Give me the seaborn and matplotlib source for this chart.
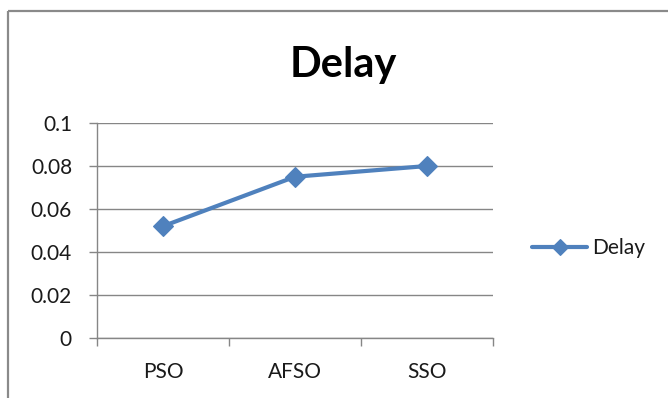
import matplotlib
matplotlib.use("Agg")
import matplotlib.pyplot as plt
from matplotlib.patches import Rectangle
import seaborn as sns
import pandas as pd

# Delay of each optimisation algorithm
algorithms = ["PSO", "AFSO", "SSO"]
delay = [0.052, 0.075, 0.080]
y_ticks = [0, 0.02, 0.04, 0.06, 0.08, 0.1]
y_tick_labels = ["0", "0.02", "0.04", "0.06", "0.08", "0.1"]

df = pd.DataFrame({"pos": range(len(algorithms)), "Delay": delay})

sns.set_theme(style="white")
plt.rcParams["font.family"] = ["Lato", "DejaVu Sans"]

W, H = 668, 398
fig = plt.figure(figsize=(W / 100, H / 100), dpi=100)
fig.patch.set_facecolor("white")

# chart frame (open on the right and bottom)
frame_color = "#8a8a8a"
fig.add_artist(plt.Line2D([8 / W, 8 / W], [0, 1 - 11 / H], transform=fig.transFigure,
                          color=frame_color, lw=1.6, solid_capstyle="butt"))
fig.add_artist(plt.Line2D([8 / W, 1], [1 - 11 / H, 1 - 11 / H], transform=fig.transFigure,
                          color=frame_color, lw=1.6, solid_capstyle="butt"))

left, right = 97 / W, 493 / W
bottom, top = 1 - 338 / H, 1 - 123 / H
ax = fig.add_axes([left, bottom, right - left, top - bottom])
ax.set_facecolor("white")

line_color = "#4f81bd"
grid_color = "#868686"

sns.lineplot(data=df, x="pos", y="Delay", ax=ax, sort=False, color=line_color,
             lw=3.0, marker="D", markersize=10, markeredgecolor=line_color,
             markeredgewidth=0.8, label="Delay", zorder=5)

ax.set_xlim(-0.5, len(algorithms) - 0.5)
ax.set_ylim(0, 0.1)

ax.set_yticks(y_ticks)
ax.set_yticklabels(y_tick_labels)
ax.yaxis.grid(True, color=grid_color, lw=1.0)
ax.xaxis.grid(False)
ax.set_axisbelow(True)

# category boundaries carry the tick marks; names sit between them
ax.set_xticks([i - 0.5 for i in range(len(algorithms) + 1)])
ax.set_xticklabels([])
ax.set_xticks(range(len(algorithms)), minor=True)
ax.set_xticklabels(algorithms, minor=True)
ax.tick_params(axis="x", which="major", direction="out", length=6, width=1.0,
               color=grid_color, bottom=True)
ax.tick_params(axis="x", which="minor", length=0, pad=17, labelsize=15,
               labelcolor="#1a1a1a")
ax.tick_params(axis="y", direction="out", length=6, width=1.0, color=grid_color,
               left=True, pad=12, labelsize=15, labelcolor="#1a1a1a")

for side in ["top", "right"]:
    ax.spines[side].set_visible(False)
for side in ["left", "bottom"]:
    ax.spines[side].set_color(grid_color)
    ax.spines[side].set_linewidth(1.0)

ax.set_xlabel("")
ax.set_ylabel("")

leg = ax.legend(loc="center left", bbox_to_anchor=(532 / W, 1 - 248 / H),
                bbox_transform=fig.transFigure, frameon=False, fontsize=15,
                handlelength=2.65, handletextpad=0.25, borderpad=0,
                borderaxespad=0, markerscale=0.8)
for t in leg.get_texts():
    t.set_color("#1a1a1a")

fig.text(343.5 / W, 1 - 77 / H, "Delay", ha="center", va="baseline",
         fontsize=30, fontweight="bold", color="black")

fig.savefig("out.png", dpi=100, facecolor="white")
